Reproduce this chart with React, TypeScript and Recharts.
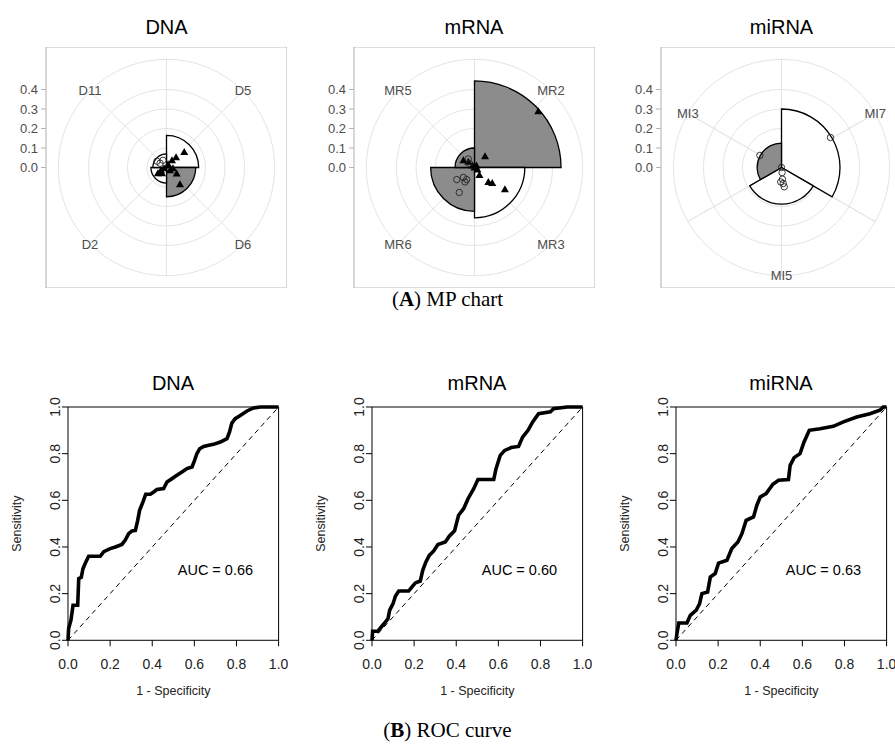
import React from "react";
import {
  PieChart, Pie, ScatterChart, Scatter, XAxis, YAxis, ReferenceArea,
  ComposedChart, Line, ReferenceLine, ReferenceDot,
} from "recharts";

const SANS = "'Liberation Sans', Arial, sans-serif";
const SERIF = "'Liberation Serif', 'Times New Roman', serif";

// ---- (A) MP chart: categories clockwise from 12 o'clock ----
const dnaCats = ["D5", "D6", "D2", "D11"];
const dnaRadius = [0.165, 0.15, 0.08, 0.07];
const dnaShaded = [false, true, false, false];
const dnaTriangles = [
  [0.091, 0.08], [0.069, -0.086], [0.052, -0.031], [-0.044, -0.029], [-0.028, -0.014],
  [-0.013, -0.004], [0.008, 0.017], [0.028, 0.037], [0.049, 0.053], [0.018, -0.014],
  [0.033, -0.004], [-0.023, -0.029],
];
const dnaCircles = [[-0.049, 0.032], [-0.033, 0.022], [-0.018, 0.037]];

const mrnaCats = ["MR2", "MR3", "MR6", "MR5"];
const mrnaRadius = [0.444, 0.258, 0.225, 0.1];
const mrnaShaded = [true, false, true, true];
const mrnaTriangles = [
  [0.327, 0.289], [0.054, 0.058], [0.071, -0.074], [0.091, -0.079], [0.156, -0.111],
  [0.025, -0.039], [-0.057, 0.037], [-0.032, 0.029], [0.0, 0.0], [0.01, 0.01],
  [0.015, -0.01], [-0.01, 0.01],
];
const mrnaCircles = [
  [-0.091, -0.062], [-0.057, -0.051], [-0.04, -0.062], [-0.049, -0.074], [-0.078, -0.128],
  [-0.032, 0.044], [-0.027, 0.021],
];

const mirnaCats = ["MI7", "MI5", "MI3"];
const mirnaRadius = [0.3, 0.188, 0.125];
const mirnaShaded = [false, false, true];
const mirnaTriangles: number[][] = [];
const mirnaCircles = [
  [0.251, 0.154], [-0.111, 0.062], [0, 0], [0.003, -0.026], [0.005, -0.06],
  [-0.004, -0.074], [0.009, -0.082], [0.014, -0.099],
];

const radiusTicks = [0, 0.1, 0.2, 0.3, 0.4];
const gridRings = [0.1, 0.2, 0.3, 0.4];
const fourSpokes = [0, 45, 135, 180, 225, 315];
const threeSpokes = [0, 60, 120, 180, 240, 300];

// ---- (B) ROC curves: [1 - specificity, sensitivity] ----
const dnaRoc = [
  [0, 0], [0.003, 0.05], [0.014, 0.086], [0.024, 0.15], [0.046, 0.15], [0.051, 0.264],
  [0.063, 0.27], [0.071, 0.307], [0.082, 0.33], [0.098, 0.36], [0.153, 0.36], [0.17, 0.38],
  [0.2, 0.393], [0.225, 0.4], [0.256, 0.411], [0.272, 0.43], [0.288, 0.457], [0.304, 0.469],
  [0.32, 0.471], [0.331, 0.514], [0.34, 0.557], [0.356, 0.593], [0.369, 0.626], [0.391, 0.626],
  [0.407, 0.636], [0.422, 0.646], [0.454, 0.65], [0.47, 0.679], [0.494, 0.693], [0.517, 0.707],
  [0.541, 0.721], [0.565, 0.736], [0.589, 0.743], [0.601, 0.771], [0.612, 0.8], [0.625, 0.821],
  [0.644, 0.831], [0.668, 0.836], [0.691, 0.84], [0.723, 0.85], [0.755, 0.864], [0.767, 0.893],
  [0.778, 0.931], [0.794, 0.95], [0.818, 0.964], [0.85, 0.983], [0.881, 0.996], [0.913, 1], [1, 1],
];
const mrnaRoc = [
  [0, 0], [0.003, 0.039], [0.028, 0.039], [0.044, 0.057], [0.06, 0.074], [0.076, 0.093],
  [0.084, 0.129], [0.1, 0.157], [0.111, 0.189], [0.127, 0.211], [0.174, 0.211], [0.19, 0.229],
  [0.206, 0.246], [0.229, 0.254], [0.241, 0.3], [0.256, 0.336], [0.272, 0.364], [0.293, 0.383],
  [0.313, 0.411], [0.348, 0.421], [0.367, 0.446], [0.392, 0.469], [0.411, 0.536], [0.435, 0.564],
  [0.456, 0.607], [0.483, 0.65], [0.503, 0.689], [0.578, 0.689], [0.589, 0.736], [0.609, 0.793],
  [0.63, 0.814], [0.661, 0.826], [0.696, 0.831], [0.715, 0.871], [0.741, 0.9], [0.763, 0.936],
  [0.791, 0.971], [0.847, 0.979], [0.862, 0.993], [0.926, 1], [1, 1],
];
const mirnaRoc = [
  [0, 0], [0.005, 0.031], [0.013, 0.074], [0.052, 0.074], [0.068, 0.107], [0.096, 0.129],
  [0.112, 0.157], [0.123, 0.2], [0.15, 0.207], [0.163, 0.271], [0.186, 0.286], [0.202, 0.331],
  [0.242, 0.343], [0.265, 0.393], [0.294, 0.421], [0.313, 0.457], [0.333, 0.514], [0.368, 0.529],
  [0.384, 0.579], [0.4, 0.614], [0.428, 0.629], [0.46, 0.669], [0.487, 0.686], [0.534, 0.689],
  [0.542, 0.75], [0.561, 0.783], [0.589, 0.8], [0.608, 0.85], [0.633, 0.9], [0.684, 0.907],
  [0.747, 0.917], [0.795, 0.936], [0.858, 0.957], [0.921, 0.971], [0.968, 0.986], [0.984, 1], [1, 1],
];
const rocTicks = [0, 0.2, 0.4, 0.6, 0.8, 1];

// layout
const BOX = 241;
const MP_TOP = 47;
const R_EDGE = 0.618; // radius value at the panel edge
const R_OUTER = 0.555; // outer ring
const GRID = "#e4e4e4";
const GRAY = "#8c8c8c";
const RADIAN = Math.PI / 180;
const pct = (v: number) => `${(v / R_EDGE) * 100}%`;
const noMargin = { top: 0, right: 0, bottom: 0, left: 0 };

function titleStyle(cx: number, top: number, size: number): React.CSSProperties {
  return {
    position: "absolute", left: cx - 100, width: 200, top, textAlign: "center",
    fontSize: size, lineHeight: 1, fontFamily: SANS, color: "#000",
  };
}

const Triangle = (p: any) => {
  const s = 4;
  return (
    <path d={`M${p.cx},${p.cy - s} L${p.cx + s},${p.cy + s * 0.75} L${p.cx - s},${p.cy + s * 0.75} Z`} fill="#000" />
  );
};
const OpenCircle = (p: any) => (
  <circle cx={p.cx} cy={p.cy} r={3.2} fill="none" stroke="#222" strokeWidth={0.9} />
);

const catLabel = (p: any) => {
  const x = p.cx + p.outerRadius * Math.cos(-p.midAngle * RADIAN);
  const y = p.cy + p.outerRadius * Math.sin(-p.midAngle * RADIAN);
  return (
    <text x={x} y={y} textAnchor="middle" dominantBaseline="central" fontSize={13} fill="#4d4d4d" fontFamily={SANS}>
      {p.name ?? p.payload?.name}
    </text>
  );
};

function MpPanel({ left, title, cats, radius, shaded, spokes, triangles, circles }: any) {
  const step = 360 / cats.length;
  const gaps = spokes.map((a: number, i: number) => ({ value: (spokes[i + 1] ?? 360) - a }));
  return (
    <>
      <div style={titleStyle(left + BOX / 2, 17.2, 20)}>{title}</div>
      <div style={{ position: "absolute", left, top: MP_TOP }}>
        <PieChart width={BOX} height={BOX} margin={noMargin}>
          {gridRings.map((r) => (
            <Pie key={r} data={[{ value: 1 }]} dataKey="value" startAngle={90} endAngle={-270}
              outerRadius={pct(r)} fill="none" stroke={GRID} strokeWidth={1} isAnimationActive={false} />
          ))}
          <Pie data={gaps} dataKey="value" startAngle={90} endAngle={-270} outerRadius={pct(R_OUTER)}
            fill="none" stroke={GRID} strokeWidth={1} isAnimationActive={false} />
          {cats.map((c: string, i: number) => (
            <Pie key={c} data={[{ name: c, value: 1 }]} dataKey="value"
              startAngle={90 - i * step} endAngle={90 - (i + 1) * step}
              outerRadius={pct(radius[i])} fill={shaded[i] ? GRAY : "#fff"}
              stroke="#000" strokeWidth={1.3} isAnimationActive={false} />
          ))}
          <Pie data={cats.map((c: string) => ({ name: c, value: 1 }))} dataKey="value" startAngle={90} endAngle={-270}
            outerRadius={pct(R_OUTER)} fill="none" stroke="none" label={catLabel} labelLine={false}
            isAnimationActive={false} />
        </PieChart>
      </div>
      <div style={{ position: "absolute", left: left - 46, top: MP_TOP }}>
        <ScatterChart width={BOX + 46} height={BOX} margin={noMargin}>
          <XAxis type="number" dataKey="x" domain={[-R_EDGE, R_EDGE]} hide allowDataOverflow />
          <YAxis type="number" dataKey="y" domain={[-R_EDGE, R_EDGE]} ticks={radiusTicks} interval={0}
            width={46} axisLine={false} tickSize={5} tickMargin={3} tickLine={{ stroke: "#b3b3b3" }}
            tick={{ fill: "#4d4d4d", fontSize: 13, fontFamily: SANS }} tickFormatter={(v: number) => v.toFixed(1)}
            allowDataOverflow />
          <ReferenceArea x1={-R_EDGE} x2={R_EDGE} y1={-R_EDGE} y2={R_EDGE} fill="none" stroke="#bdbdbd" strokeWidth={1.2} />
          <Scatter data={triangles.map(([x, y]: number[]) => ({ x, y }))} shape={Triangle} isAnimationActive={false} />
          <Scatter data={circles.map(([x, y]: number[]) => ({ x, y }))} shape={OpenCircle} isAnimationActive={false} />
        </ScatterChart>
      </div>
    </>
  );
}

// ROC panel geometry
const ROC_TOP = 406.7;
const ROC_W = 210.6;
const ROC_H = 233.3;
const ROC_PAD_TOP = 16;
const Y_AXIS_W = 58;
const X_AXIS_H = 62;

const RotTick = (p: any) => (
  <text x={p.x} y={p.y} transform={`rotate(-90 ${p.x} ${p.y})`} textAnchor="middle" fontSize={14}
    fill="#222" fontFamily={SANS}>
    {Number(p.payload.value).toFixed(1)}
  </text>
);

function RocPanel({ left, title, roc, auc }: any) {
  const data = roc.map(([fpr, tpr]: number[]) => ({ fpr, tpr }));
  return (
    <>
      <div style={titleStyle(left + ROC_W / 2, 372.7, 20)}>{title}</div>
      <div style={{ position: "absolute", left: left - Y_AXIS_W, top: ROC_TOP - ROC_PAD_TOP }}>
        <ComposedChart width={Y_AXIS_W + ROC_W + 10} height={ROC_PAD_TOP + ROC_H + X_AXIS_H} data={data}
          margin={{ top: ROC_PAD_TOP, right: 10, bottom: 0, left: 0 }}>
          <XAxis type="number" dataKey="fpr" domain={[0, 1]} ticks={rocTicks} interval={0} height={X_AXIS_H}
            axisLine={false} tickSize={6} tickMargin={13} tickLine={{ stroke: "#000" }}
            tick={{ fill: "#222", fontSize: 14, fontFamily: SANS }} tickFormatter={(v: number) => v.toFixed(1)}
            label={{ value: "1 - Specificity", position: "insideBottom", offset: 7, fontSize: 12.5, fill: "#222", fontFamily: SANS }} />
          <YAxis type="number" domain={[0, 1]} ticks={rocTicks} interval={0} width={Y_AXIS_W}
            axisLine={false} tickSize={6} tickMargin={2} tickLine={{ stroke: "#000" }} tick={RotTick}
            label={{ value: "Sensitivity", angle: -90, position: "insideLeft", offset: 7, fontSize: 12.5, fill: "#222", fontFamily: SANS, style: { textAnchor: "middle" } }} />
          <ReferenceArea x1={0} x2={1} y1={0} y2={1} fill="none" stroke="#000" strokeWidth={1} />
          <ReferenceLine segment={[{ x: 0, y: 0 }, { x: 1, y: 1 }]} stroke="#000" strokeWidth={1} strokeDasharray="5 4" />
          <Line type="linear" dataKey="tpr" stroke="#000" strokeWidth={3.6} dot={false} isAnimationActive={false} />
          <ReferenceDot x={0.7} y={0.3} r={0} stroke="none"
            label={{ value: `AUC = ${auc}`, position: "center", fontSize: 14.5, fill: "#000", fontFamily: SANS }} />
        </ComposedChart>
      </div>
    </>
  );
}

const captionStyle = (top: number): React.CSSProperties => ({
  position: "absolute", left: 0, width: 895, top, textAlign: "center",
  fontFamily: SERIF, fontSize: 21, lineHeight: 1, color: "#000",
});

export default function App() {
  return (
    <div style={{ position: "absolute", left: 0, top: 0, width: 895, height: 748, overflow: "hidden", background: "#fff" }}>
      <MpPanel left={46} title="DNA" cats={dnaCats} radius={dnaRadius} shaded={dnaShaded}
        spokes={fourSpokes} triangles={dnaTriangles} circles={dnaCircles} />
      <MpPanel left={353.5} title="mRNA" cats={mrnaCats} radius={mrnaRadius} shaded={mrnaShaded}
        spokes={fourSpokes} triangles={mrnaTriangles} circles={mrnaCircles} />
      <MpPanel left={661} title="miRNA" cats={mirnaCats} radius={mirnaRadius} shaded={mirnaShaded}
        spokes={threeSpokes} triangles={mirnaTriangles} circles={mirnaCircles} />
      <div style={captionStyle(289)}>(<b>A</b>) MP chart</div>

      <RocPanel left={67.7} title="DNA" roc={dnaRoc} auc="0.66" />
      <RocPanel left={371.7} title="mRNA" roc={mrnaRoc} auc="0.60" />
      <RocPanel left={675.7} title="miRNA" roc={mirnaRoc} auc="0.63" />
      <div style={captionStyle(720)}>(<b>B</b>) ROC curve</div>
    </div>
  );
}
